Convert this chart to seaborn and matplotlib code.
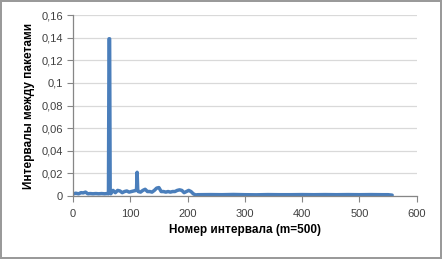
import matplotlib
matplotlib.use("Agg")
import matplotlib.pyplot as plt
import seaborn as sns
import pandas as pd
from matplotlib.ticker import FixedLocator, FixedFormatter

# Interval number (sampled where the shape changes) and packet interval values
interval_no = [1, 5, 10, 14, 18, 22, 26, 30, 35, 40, 45, 50, 55, 60, 62, 63, 64, 65, 66,
               70, 74, 78, 82, 86, 90, 94, 98, 102, 106, 110, 111, 112, 113, 114,
               118, 122, 126, 130, 134, 138, 142, 146, 150, 154, 158, 162, 166, 170,
               174, 178, 182, 186, 190, 194, 198, 202, 206, 210, 214, 218,
               240, 260, 280, 300, 320, 340, 360, 380, 400, 420, 440, 460, 480,
               500, 520, 540, 550, 557]
interval_val = [0.002, 0.0025, 0.002, 0.003, 0.0028, 0.0035, 0.002, 0.0022, 0.002, 0.0022,
                0.002, 0.0022, 0.002, 0.0022, 0.002, 0.139, 0.139, 0.003, 0.002,
                0.005, 0.003, 0.005, 0.0045, 0.003, 0.004, 0.0045, 0.0035, 0.004, 0.0045,
                0.005, 0.006, 0.021, 0.006, 0.004,
                0.0035, 0.005, 0.006, 0.004, 0.004, 0.0035, 0.005, 0.007, 0.0075, 0.004,
                0.004, 0.0035, 0.004, 0.0035, 0.004, 0.004, 0.005, 0.0055, 0.005, 0.003,
                0.004, 0.005, 0.004, 0.002, 0.001, 0.0012,
                0.0013, 0.0012, 0.0014, 0.0012, 0.0011, 0.0013, 0.0012, 0.0012, 0.0013,
                0.0012, 0.0013, 0.0012, 0.0013, 0.0012, 0.0013, 0.0012, 0.0012, 0.0008]

x_ticks = [0, 100, 200, 300, 400, 500, 600]
y_ticks = [0, 0.02, 0.04, 0.06, 0.08, 0.1, 0.12, 0.14, 0.16]
y_tick_labels = ["0", "0,02", "0,04", "0,06", "0,08", "0,1", "0,12", "0,14", "0,16"]

sns.set_theme(style="white")
plt.rcParams['font.family'] = ['Liberation Sans', 'DejaVu Sans']

fig = plt.figure(figsize=(4.42, 2.59), dpi=100)
fig.patch.set_edgecolor('#9a9a9a')
fig.patch.set_linewidth(1.5)
ax = fig.add_axes([0.165, 0.243, 0.778, 0.699])

df = pd.DataFrame({"x": interval_no, "y": interval_val})
sns.lineplot(data=df, x="x", y="y", ax=ax, color="#4a7ebb", linewidth=2.5)

ax.set_xlim(0, 600)
ax.set_ylim(0, 0.16)
ax.xaxis.set_major_locator(FixedLocator(x_ticks))
ax.yaxis.set_major_locator(FixedLocator(y_ticks))
ax.yaxis.set_major_formatter(FixedFormatter(y_tick_labels))
ax.grid(axis='y', color='#d9d9d9', linewidth=0.9)
ax.set_axisbelow(True)
for s in ['top', 'right']:
    ax.spines[s].set_visible(False)
for s in ['left', 'bottom']:
    ax.spines[s].set_color('#868686')
    ax.spines[s].set_linewidth(0.9)
ax.tick_params(axis='both', which='major', length=4, width=0.8, color='#868686',
               labelsize=8, labelcolor='#404040', direction='out', bottom=True, left=True)
ax.tick_params(axis='x', pad=5)
ax.tick_params(axis='y', pad=3)

ax.set_xlabel("Номер интервала (m=500)", fontsize=8.5, fontweight='bold', color='black', labelpad=4)
ax.set_ylabel("Интервалы между пакетами", fontsize=8.5, fontweight='bold', color='black', labelpad=5)

fig.savefig("out.png", dpi=100)
